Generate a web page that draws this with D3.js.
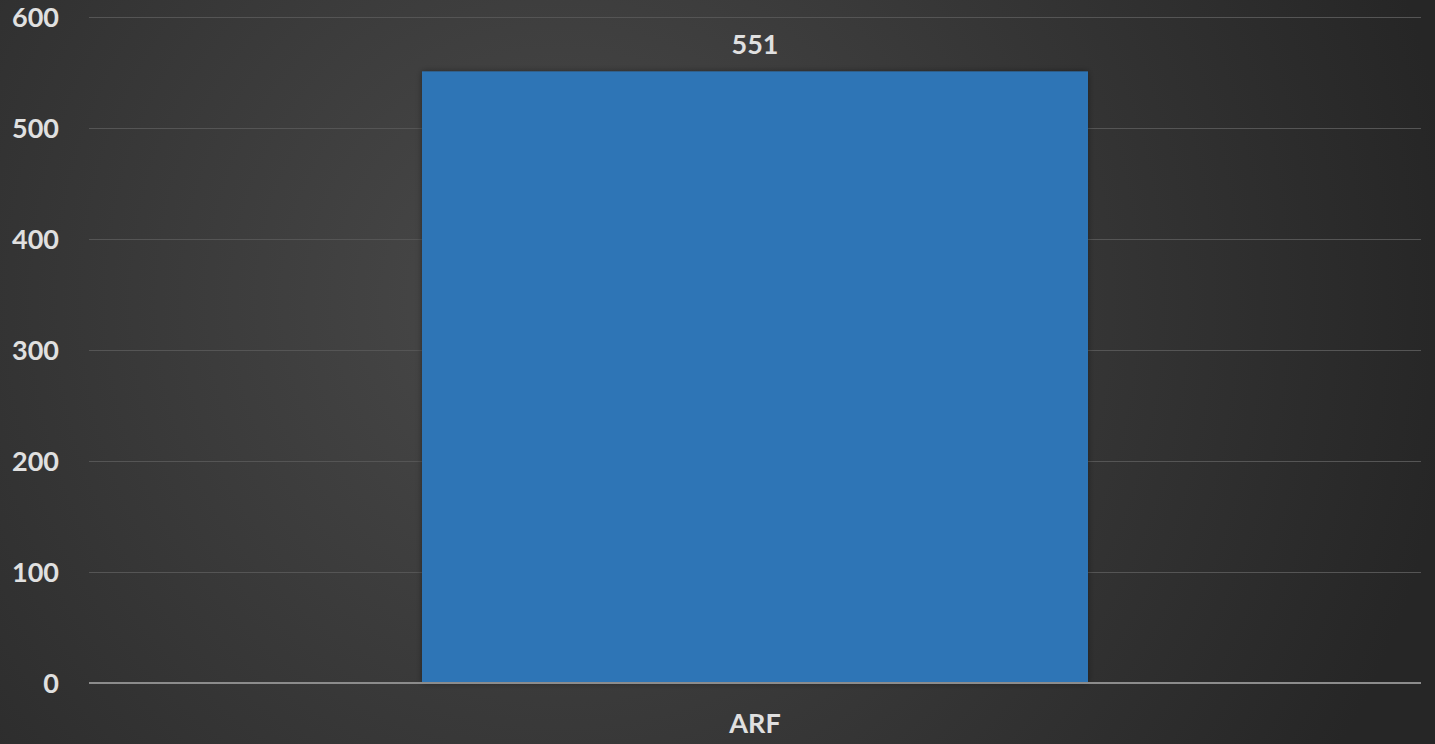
<!DOCTYPE html>
<html><head><meta charset="utf-8">
<script src="https://cdn.jsdelivr.net/npm/d3@7"></script>
<style>html,body{margin:0;padding:0;background:#2a2a2a;overflow:hidden}</style>
</head><body>
<svg id="c" width="1435" height="744"></svg>
<script>
const categories = ["ARF"];
const values = [551];
const yTicks = [0, 100, 200, 300, 400, 500, 600];

const W = 1435, H = 744;
const m = {left: 89, right: 14, top: 17, bottom: 61};
const svg = d3.select("#c");
const defs = svg.append("defs");
const rg = defs.append("radialGradient").attr("id","bg").attr("gradientUnits","userSpaceOnUse")
  .attr("cx", 560).attr("cy", 300).attr("r", 900);
rg.append("stop").attr("offset","0%").attr("stop-color","#4a4a4a");
rg.append("stop").attr("offset","100%").attr("stop-color","#262626");
const f = defs.append("filter").attr("id","sh").attr("x","-5%").attr("y","-5%").attr("width","110%").attr("height","110%");
f.append("feDropShadow").attr("dx",0).attr("dy",0).attr("stdDeviation",3).attr("flood-color","#000").attr("flood-opacity",0.4);

svg.append("rect").attr("width",W).attr("height",H).attr("fill","url(#bg)");

const x = d3.scaleBand().domain(categories).range([m.left, W - m.right]).paddingInner(0).paddingOuter(0.5);
const y = d3.scaleLinear().domain([0, 600]).range([H - m.bottom, m.top]);

const font = "Lato, 'Open Sans', sans-serif";

svg.append("g").selectAll("line").data(yTicks.filter(d => d > 0)).join("line")
  .attr("x1", m.left).attr("x2", W - m.right)
  .attr("y1", d => Math.round(y(d)) + 0.5).attr("y2", d => Math.round(y(d)) + 0.5)
  .attr("stroke", "#555555").attr("stroke-width", 1);

svg.append("g").selectAll("rect").data(values).join("rect")
  .attr("x", (d, i) => x(categories[i])).attr("width", x.bandwidth())
  .attr("y", d => y(d)).attr("height", d => y(0) - y(d))
  .attr("fill", "#2e75b6").attr("filter", "url(#sh)");

svg.append("line").attr("x1", m.left).attr("x2", W - m.right)
  .attr("y1", y(0)).attr("y2", y(0)).attr("stroke", "#8c8c8c").attr("stroke-width", 2);

svg.append("g").selectAll("text").data(yTicks).join("text")
  .attr("x", 59).attr("y", d => y(d)).attr("dy", "0.36em")
  .attr("text-anchor", "end").attr("fill", "#e0e0e0")
  .style("font", `bold 27px ${font}`).text(d => d);

svg.append("g").selectAll("text").data(values).join("text")
  .attr("x", (d, i) => x(categories[i]) + x.bandwidth() / 2).attr("y", d => y(d) - 27)
  .attr("dy", "0.36em").attr("text-anchor", "middle").attr("fill", "#e0e0e0")
  .style("font", `bold 27px ${font}`).text(d => d);

svg.append("g").selectAll("text").data(categories).join("text")
  .attr("x", d => x(d) + x.bandwidth() / 2).attr("y", 723)
  .attr("dy", "0.36em").attr("text-anchor", "middle").attr("fill", "#e0e0e0")
  .style("font", `bold 27px ${font}`).text(d => d);
</script>
</body></html>
